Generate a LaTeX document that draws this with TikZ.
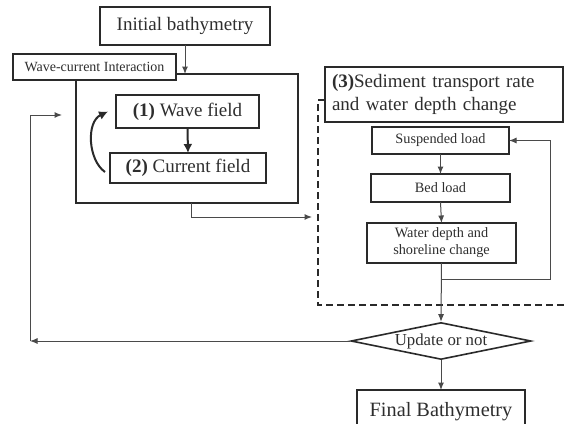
\documentclass[tikz,border=0pt]{standalone}
\usepackage{fontspec}
\setmainfont{Liberation Serif}
\usetikzlibrary{shapes,arrows,arrows.meta,calc,positioning,backgrounds}
\definecolor{boxgray}{HTML}{2A2A2A}
\definecolor{linegray}{HTML}{4A4A4A}
\definecolor{txtgray}{HTML}{2E2E2E}

\begin{document}
\begin{tikzpicture}[x=1pt,y=-1pt,
  block/.style={draw=boxgray,line width=1.6pt,rectangle,fill=white,text=txtgray,inner sep=0pt,outer sep=0pt},
  big/.style={font=\fontsize{19}{22}\selectfont},
  small/.style={font=\fontsize{14.3}{17}\selectfont},
  link/.style={draw=linegray,line width=1pt},
  tip/.style={-{Latex[length=7.5pt,width=6pt]}},
  heavy/.style={draw=boxgray,line width=2pt,-{Latex[length=9pt,width=9pt]}}]

  \useasboundingbox (0,0) rectangle (567,423);
  \clip (0,0) rectangle (567,423);

  % wave-current part
  \node[block,minimum width=170pt,minimum height=38pt,big] (init) at (185,26) {Initial bathymetry};
  \node[block,minimum width=222pt,minimum height=129pt,fill=none] (frame) at (187,138.5) {};
  \node[block,minimum width=163pt,minimum height=26pt,font=\fontsize{14}{16}\selectfont] (wci) at (94.5,67) {Wave-current Interaction};
  \node[block,minimum width=143pt,minimum height=33pt,big] (wave) at (187.5,111.5) {\textbf{(1)} Wave field};
  \node[block,minimum width=156pt,minimum height=30pt,big] (curr) at (188,168) {\textbf{(2)} Current field};

  % sediment part
  \node[block,minimum width=238pt,minimum height=55pt,align=left,text width=224pt,
        font=\fontsize{19}{23}\selectfont] (sed) at (444,94.5) {\textbf{(3)}Sediment transport rate\\and water depth change};
  \node[block,minimum width=137pt,minimum height=27pt,small] (susp) at (440.5,140.5) {Suspended load};
  \node[block,minimum width=139pt,minimum height=28pt,small] (bed) at (440.5,188) {Bed load};
  \node[block,minimum width=149pt,minimum height=40pt,small,align=center] (depth) at (441.5,243) {Water depth and\\shoreline change};

  \node[draw=boxgray,line width=1.6pt,diamond,aspect=4.86,inner sep=0pt,minimum width=180pt,minimum height=37pt,
        fill=white,text=txtgray,font=\fontsize{16.8}{19}\selectfont] (upd) at (441,341) {Update or not};
  \node[block,minimum width=168pt,minimum height=44pt,font=\fontsize{20.3}{22}\selectfont] (final) at (441,412) {Final Bathymetry};

  \coordinate (dtop) at (318,100);
  \coordinate (dbot) at (318,305);
  \coordinate (ddin) at (312,217);
  \coordinate (fbr) at (550,279);
  \coordinate (fbl) at (30,341);
  \coordinate (fbt) at (62,115);

  \draw[boxgray,line width=2pt,dash pattern=on 7pt off 4pt] (sed.west |- dtop) -- (dtop) -- (dbot) -- (567,305);

  \draw[link,tip] (init.south) -- (init.south |- frame.north);
  \draw[heavy] (wave.south) -- (curr.north);
  \draw[heavy] ($(curr.west)+(-5,4)$) .. controls (88,160) and (86,122) .. ($(wave.west)+(-8,0)$);
  \draw[link,tip] ([xshift=4pt]frame.south) |- (ddin);

  \draw[link,tip] (susp.south) -- (bed.north);
  \draw[link,tip] (bed.south) -- (depth.north);
  \draw[link,tip] (depth.south) -- (upd.north);
  \draw[link,tip] (depth.south |- fbr) -- (fbr) |- (susp.east);
  \draw[link,tip] (upd.south) -- (final.north);

  \draw[link,tip] (upd.west) -- (fbl);
  \draw[link,tip] (fbl) |- (fbt);
\end{tikzpicture}
\end{document}
